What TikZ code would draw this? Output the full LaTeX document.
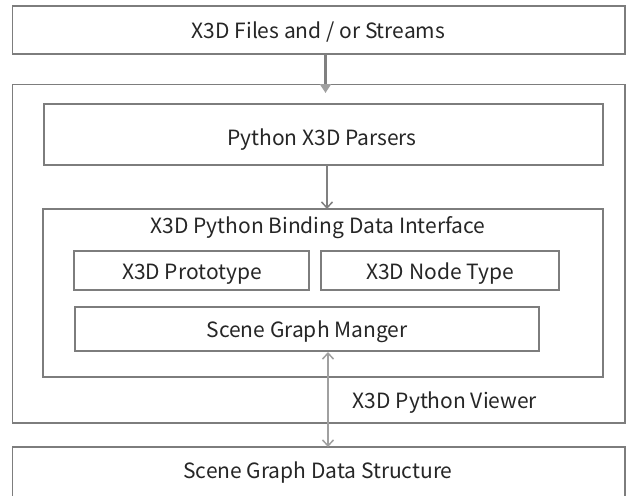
\documentclass[tikz,border=0pt]{standalone}
\usepackage{fontspec}
\setmainfont{Noto Sans CJK KR}
\usetikzlibrary{arrows.meta,calc}
\definecolor{boxgray}{RGB}{125,125,125}
\definecolor{arrgray}{RGB}{128,128,128}
\definecolor{lightarr}{RGB}{160,160,160}
\tikzset{
  box/.style={draw=boxgray, line width=1.6pt, fill=white, inner sep=0pt},
  lbl/.style={font=\fontsize{21}{24}\selectfont, text=black!85, inner sep=0pt, anchor=base},
}
\begin{document}
\begin{tikzpicture}[x=1pt,y=-1pt]
\useasboundingbox[fill=white] (0,0) rectangle (628,495);
% boxes
\draw[box] (12.5,6) rectangle (625,54);
\node[lbl] (files) at (318.5,38.7) {X3D Files and / or Streams};
\coordinate (topS) at (325.5,54);
\draw[box] (12.5,84.5) rectangle (625,423);
\coordinate (outerN) at (325.5,93);
\draw[box] (44,104) rectangle (603,165);
\node[lbl] (parsers) at (322,145) {Python X3D Parsers};
\coordinate (parsS) at (327,165);
\draw[box] (43,209) rectangle (603,377);
\coordinate (bindN) at (327,209);
\node[lbl] (binding) at (318,233) {X3D Python Binding Data Interface};
\draw[box] (74,251) rectangle (309,290);
\node[lbl] (proto) at (192,279) {X3D Prototype};
\draw[box] (321,251) rectangle (559,290);
\node[lbl] (ntype) at (440,279) {X3D Node Type};
\draw[box] (75,307) rectangle (539,351);
\node[lbl] (sgm) at (307,337) {Scene Graph Manger};
\coordinate (sgmS) at (328,352);
\node[lbl] (viewer) at (445,408) {X3D Python Viewer};
\draw[box] (12.5,447) rectangle (625,500);
\coordinate (botN) at (328,447);
\node[lbl] (sgds) at (318,478.7) {Scene Graph Data Structure};
% arrows
\draw[arrgray, line width=2.6pt, -{Triangle[length=9pt,width=11pt,fill=lightarr,color=lightarr]}] (topS) -- (outerN);
\draw[arrgray, line width=1.5pt, -{Straight Barb[length=6pt,width=11pt]}] (parsS) -- (bindN);
\draw[lightarr, line width=1.5pt, {Straight Barb[length=6pt,width=11pt]}-{Straight Barb[length=6pt,width=11pt]}] (sgmS) -- (botN);
\end{tikzpicture}
\end{document}
